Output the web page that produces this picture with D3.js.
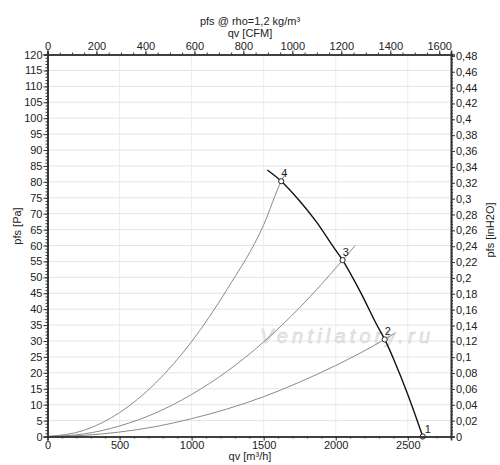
<html>
<head>
<meta charset="utf-8">
<title>Fan curve</title>
<style>
  body { margin: 0; background: #fff; }
  text { font-family: "Liberation Sans", Arial, sans-serif; }
</style>
</head>
<body>
<svg id="chart" width="500" height="465"></svg>
<script src="https://cdn.jsdelivr.net/npm/d3@7"></script>
<script>
// values (qv in m³/h, pfs in Pa)
let fanQ = [1525, 1622, 1750, 1870, 1980, 2048, 2170, 2280, 2340, 2400, 2500, 2604]
let fanP = [83.7, 80.2, 74.0, 67.2, 59.8, 55.4, 45.5, 35.5, 30.5, 24.5, 13.2, 0]

let sys4Q = [0, 250, 500, 750, 1000, 1250, 1500, 1622, 1655]
let sys4P = [0, 1.9, 7.5, 16.8, 29.8, 46.5, 66.5, 80.2, 83]
let sys3Q = [0, 250, 500, 750, 1000, 1250, 1500, 1750, 2048, 2135]
let sys3P = [0, 0.8, 3.3, 7.4, 13.2, 20.6, 29.7, 40.5, 55.4, 60]
let sys2Q = [0, 250, 500, 750, 1000, 1250, 1500, 1750, 2000, 2340, 2410]
let sys2P = [0, 0.35, 1.4, 3.1, 5.6, 8.7, 12.5, 17.1, 22.3, 30.5, 32.4]

let pointLabels = ["1", "2", "3", "4"]
let pointQ = [2604, 2340, 2048, 1622]
let pointP = [0, 30.5, 55.4, 80.2]

let qvTicks = [0, 500, 1000, 1500, 2000, 2500]
let cfmTicks = [0, 200, 400, 600, 800, 1000, 1200, 1400, 1600]
let paTicks = [0, 5, 10, 15, 20, 25, 30, 35, 40, 45, 50, 55, 60, 65, 70, 75, 80, 85, 90, 95, 100, 105, 110, 115, 120]
let inTicks = [0, 0.02, 0.04, 0.06, 0.08, 0.1, 0.12, 0.14, 0.16, 0.18, 0.2, 0.22, 0.24, 0.26, 0.28, 0.3, 0.32, 0.34, 0.36, 0.38, 0.4, 0.42, 0.44, 0.46, 0.48]

let svg = d3.select("#chart")
let plotL = 47.5, plotR = 451, plotT = 54.5, plotB = 436.5

let x = d3.scaleLinear().domain([0, 2800]).range([plotL, plotR])
let xCfm = d3.scaleLinear().domain([0, 2800 / 1.699]).range([plotL, plotR])
let y = d3.scaleLinear().domain([0, 120]).range([plotB, plotT])
let yIn = d3.scaleLinear().domain([0, 120 / 249.09]).range([plotB, plotT])

// grid
svg.append("g").selectAll("line").data(paTicks.slice(1, -1)).join("line")
    .attr("x1", plotL).attr("x2", plotR)
    .attr("y1", d => y(d)).attr("y2", d => y(d))
    .style("stroke", "#e4e4e4").style("stroke-width", 1)
svg.append("g").selectAll("line").data(qvTicks.slice(1)).join("line")
    .attr("x1", d => x(d)).attr("x2", d => x(d))
    .attr("y1", plotT).attr("y2", plotB)
    .style("stroke", "#ececec").style("stroke-width", 1)

// watermark
svg.append("text")
    .attr("x", 260).attr("y", 343)
    .attr("textLength", 170)
    .style("font-size", "20px").style("font-style", "italic")
    .style("fill", "#e8e8e8").style("stroke", "#d2d2d2").style("stroke-width", 0.5)
    .text("Ventilatory.ru")

// curves
let line = d3.line().x(d => x(d[0])).y(d => y(d[1])).curve(d3.curveMonotoneX)
let systems = [[sys2Q, sys2P], [sys3Q, sys3P], [sys4Q, sys4P]]
svg.append("g").selectAll("path").data(systems).join("path")
    .attr("d", s => line(d3.zip(s[0], s[1])))
    .style("fill", "none").style("stroke", "#8a8a8a").style("stroke-width", 1)

let fanLine = d3.line().x(d => x(d[0])).y(d => y(d[1])).curve(d3.curveCatmullRom)
svg.append("path")
    .attr("d", fanLine(d3.zip(fanQ, fanP)))
    .style("fill", "none").style("stroke", "#111").style("stroke-width", 1.4)

// operating points
let pts = svg.append("g").selectAll("g").data(pointLabels).join("g")
    .attr("transform", (d, i) => `translate(${x(pointQ[i])},${y(pointP[i])})`)
pts.append("circle").attr("r", 2.6)
    .style("fill", "#fff").style("stroke", "#222").style("stroke-width", 1)
pts.append("text").attr("x", (d, i) => i == 0 ? 2 : 0).attr("y", -4)
    .style("font-size", "11px").style("fill", "#222")
    .text(d => d)

// axes
function styleAxis(g) {
    g.select(".domain").style("stroke", "#333").style("stroke-width", 1.6)
    g.selectAll(".tick line").style("stroke", "#333")
    g.selectAll(".tick text").style("font-size", "11px").style("fill", "#222")
        .style("font-family", "'Liberation Sans', Arial, sans-serif")
}
let comma = d => String(+d.toFixed(2)).replace(".", ",")
let plain = d3.format("d")

// minor ticks
svg.append("g").attr("transform", `translate(${plotL},0)`)
    .call(d3.axisLeft(y).tickValues(d3.range(0, 121, 1)).tickSize(2).tickFormat(""))
    .call(styleAxis)
svg.append("g").attr("transform", `translate(${plotR},0)`)
    .call(d3.axisRight(yIn).tickValues(d3.range(0, 0.481, 0.004)).tickSize(2).tickFormat(""))
    .call(styleAxis)
svg.append("g").attr("transform", `translate(0,${plotB})`)
    .call(d3.axisBottom(x).tickValues(d3.range(0, 2801, 100)).tickSize(2).tickFormat(""))
    .call(styleAxis)
svg.append("g").attr("transform", `translate(0,${plotT})`)
    .call(d3.axisTop(xCfm).tickValues(d3.range(0, 1648, 50)).tickSize(2).tickFormat(""))
    .call(styleAxis)

// major ticks
svg.append("g").attr("transform", `translate(${plotL},0)`)
    .call(d3.axisLeft(y).tickValues(paTicks).tickSize(4).tickPadding(1).tickFormat(plain))
    .call(styleAxis)
svg.append("g").attr("transform", `translate(${plotR},0)`)
    .call(d3.axisRight(yIn).tickValues(inTicks).tickSize(4).tickPadding(1).tickFormat(comma))
    .call(styleAxis)
svg.append("g").attr("transform", `translate(0,${plotB})`)
    .call(d3.axisBottom(x).tickValues(qvTicks).tickSize(4).tickPadding(1).tickFormat(plain))
    .call(styleAxis)
svg.append("g").attr("transform", `translate(0,${plotT})`)
    .call(d3.axisTop(xCfm).tickValues(cfmTicks).tickSize(4).tickPadding(1).tickFormat(plain))
    .call(styleAxis)

// titles
let title = (t, tx, ty, rot) => svg.append("text")
    .attr("transform", `translate(${tx},${ty}) rotate(${rot})`)
    .attr("text-anchor", "middle")
    .style("font-size", "11px").style("fill", "#222")
    .text(t)
title("pfs @ rho=1,2 kg/m³", 250, 25, 0)
title("qv [CFM]", 250, 37, 0)
title("qv [m³/h]", 250, 460, 0)
title("pfs [Pa]", 21, 226, -90)
title("pfs [inH2O]", 494, 230, -90)
</script>
</body>
</html>
